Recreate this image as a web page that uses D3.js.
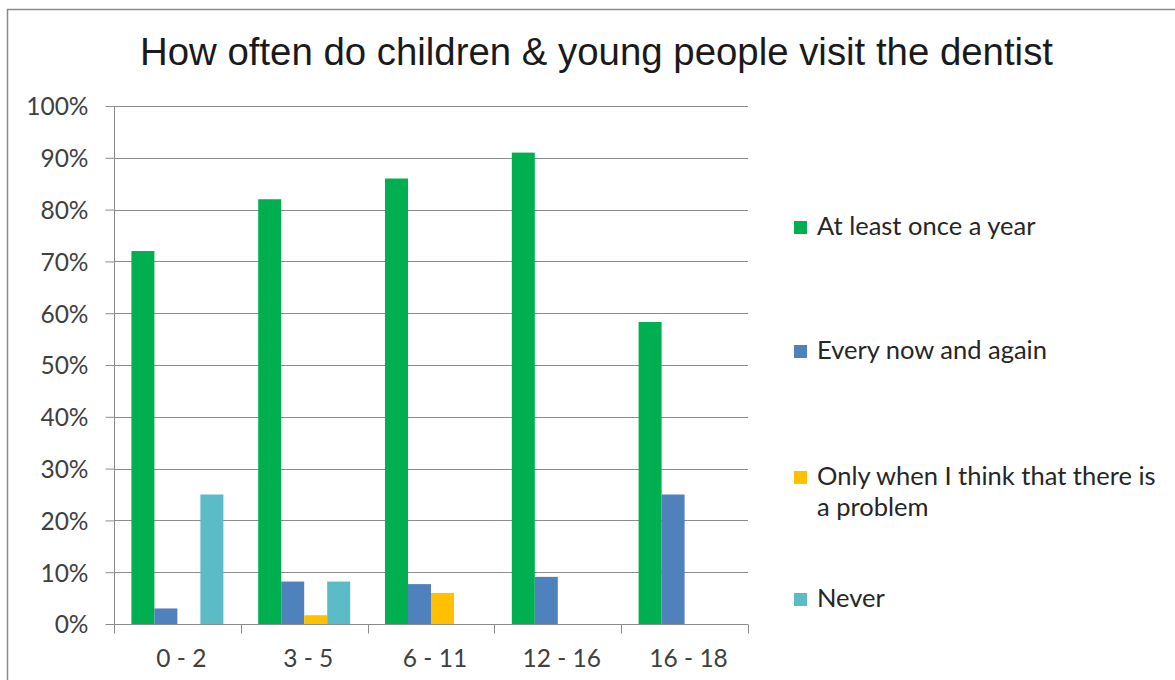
<!DOCTYPE html>
<html>
<head>
<meta charset="utf-8">
<script src="https://cdn.jsdelivr.net/npm/d3@7/dist/d3.min.js"></script>
<style>
  html, body { margin: 0; padding: 0; background: #fff; }
  svg { display: block; }
</style>
</head>
<body>
<svg id="chart" width="1175" height="680"></svg>
<script>
// Age groups along the x axis
const categories = ["0 - 2", "3 - 5", "6 - 11", "12 - 16", "16 - 18"];

// Share of each age group per answer (percent)
const atLeastOnceAYear = [72, 82, 86, 91, 58.3];
const everyNowAndAgain = [3, 8.2, 7.7, 9.1, 25];
const onlyWhenProblem  = [0, 1.7, 6, 0, 0];
const never            = [25, 8.2, 0, 0, 0];

const seriesNames = [
  "At least once a year",
  "Every now and again",
  "Only when I think that there is a problem",
  "Never"
];
const seriesValues = [atLeastOnceAYear, everyNowAndAgain, onlyWhenProblem, never];
const seriesColors = ["#00B050", "#4F81BD", "#FFC000", "#5BBCC8"];

// Legend lines (wrapped like the chart legend)
const legendLines = [
  ["At least once a year"],
  ["Every now and again"],
  ["Only when I think that there is", "a problem"],
  ["Never"]
];

const yTicks = [0, 0.1, 0.2, 0.3, 0.4, 0.5, 0.6, 0.7, 0.8, 0.9, 1.0];

const svg = d3.select("#chart");
const labelFont = "Lato, 'Noto Sans', sans-serif";

// outer frame of the chart area
svg.append("rect")
  .attr("x", 7.5).attr("y", 9.5)
  .attr("width", 1300).attr("height", 800)
  .attr("fill", "#fff")
  .attr("stroke", "#8a8a8a")
  .attr("stroke-width", 1.5);

const plot = { left: 114, right: 748, top: 106, bottom: 624 };

const x = d3.scaleBand()
  .domain(categories)
  .range([plot.left, plot.right])
  .paddingInner(0).paddingOuter(0);

const xs = d3.scaleBand()
  .domain(d3.range(seriesNames.length))
  .range([0, x.bandwidth()])
  .paddingInner(0)
  .paddingOuter(0.757);

const y = d3.scaleLinear().domain([0, 1]).range([plot.bottom, plot.top]);

// horizontal gridlines
svg.append("g")
  .selectAll("line")
  .data(yTicks.filter(t => t > 0))
  .join("line")
  .attr("x1", plot.left).attr("x2", plot.right)
  .attr("y1", d => Math.round(y(d)) + 0.5)
  .attr("y2", d => Math.round(y(d)) + 0.5)
  .attr("stroke", "#8c8c8c")
  .attr("stroke-width", 1);

// bars
const rows = [];
categories.forEach((c, ci) => {
  seriesValues.forEach((vals, si) => {
    rows.push({ cat: c, s: si, v: vals[ci] / 100 });
  });
});

svg.append("g")
  .selectAll("rect")
  .data(rows)
  .join("rect")
  .attr("x", d => x(d.cat) + xs(d.s))
  .attr("width", xs.bandwidth())
  .attr("y", d => y(d.v))
  .attr("height", d => y(0) - y(d.v))
  .attr("fill", d => seriesColors[d.s]);

// y axis
const yAxis = d3.axisLeft(y)
  .tickValues(yTicks)
  .tickFormat(d3.format(".0%"))
  .tickSize(9)
  .tickPadding(17);

const gy = svg.append("g")
  .attr("transform", `translate(${plot.left + 0.5},0)`)
  .call(yAxis);
gy.select(".domain").attr("stroke", "#8c8c8c").attr("d", `M0,${plot.top}V${plot.bottom}`);
gy.selectAll(".tick line").attr("stroke", "#8c8c8c");
gy.selectAll(".tick text")
  .attr("font-family", labelFont)
  .attr("font-size", 24.5)
  .attr("fill", "#404040")
  .attr("dy", "0.36em");

// x axis with ticks on category boundaries
const gx = svg.append("g")
  .attr("transform", `translate(0,${plot.bottom + 0.5})`);
gx.append("line")
  .attr("x1", plot.left).attr("x2", plot.right)
  .attr("stroke", "#8c8c8c");
gx.selectAll("line.tk")
  .data(categories.map(c => x(c)).concat([plot.right]))
  .join("line")
  .attr("class", "tk")
  .attr("x1", d => Math.round(d) + 0.5).attr("x2", d => Math.round(d) + 0.5)
  .attr("y1", 0).attr("y2", 9)
  .attr("stroke", "#8c8c8c");
gx.selectAll("text")
  .data(categories)
  .join("text")
  .attr("x", d => x(d) + x.bandwidth() / 2 + 4)
  .attr("y", 42)
  .attr("text-anchor", "middle")
  .attr("font-family", labelFont)
  .attr("font-size", 24.5)
  .attr("fill", "#404040")
  .text(d => d);

// title
svg.append("text")
  .attr("x", 596.5)
  .attr("y", 65)
  .attr("text-anchor", "middle")
  .attr("font-family", "'Liberation Sans', Arial, sans-serif")
  .attr("font-size", 38)
  .attr("fill", "#1a1a1a")
  .attr("textLength", 913)
  .attr("lengthAdjust", "spacingAndGlyphs")
  .text("How often do children & young people visit the dentist");

// legend
const legendBaselines = [235, 359, 485, 607];
const legend = svg.append("g");
legendLines.forEach((lines, i) => {
  const by = legendBaselines[i];
  legend.append("rect")
    .attr("x", 794).attr("y", by - 14)
    .attr("width", 13).attr("height", 13)
    .attr("fill", seriesColors[i]);
  lines.forEach((ln, j) => {
    legend.append("text")
      .attr("x", 817)
      .attr("y", by + j * 31)
      .attr("font-family", labelFont)
      .attr("font-size", 25.5)
      .attr("fill", "#262626")
      .text(ln);
  });
});
</script>
</body>
</html>
